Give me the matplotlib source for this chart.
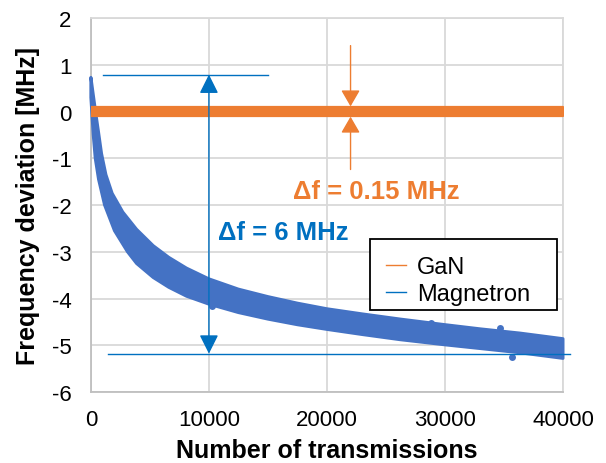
import numpy as np
import matplotlib
matplotlib.use('Agg')
import matplotlib.pyplot as plt
from matplotlib.lines import Line2D
from matplotlib.patches import Rectangle

plt.rcParams['font.family'] = ['Liberation Sans', 'DejaVu Sans']
plt.rcParams['axes.unicode_minus'] = False

mag_x_upper = [0, 150, 420, 650, 900, 1270, 1800, 2700, 3870, 5280, 6600, 8100, 10000,
               12500, 15000, 17500, 20000, 23000, 26200, 30000, 33000, 36350, 40000]
mag_upper = [0.73, 0.45, -0.05, -0.45, -0.9, -1.35, -1.75, -2.15, -2.52, -2.87, -3.12,
             -3.35, -3.58, -3.8, -3.96, -4.1, -4.22, -4.33, -4.44, -4.56, -4.65, -4.74, -4.86]
mag_x_lower = [0, 200, 370, 650, 1160, 2000, 3100, 3870, 5280, 6600, 8100, 10000,
               12500, 15000, 17500, 20000, 23000, 26200, 30000, 33000, 36350, 40000]
mag_lower = [0.3, -0.5, -1.0, -1.45, -2.0, -2.55, -3.0, -3.25, -3.55, -3.76, -3.95, -4.12,
             -4.3, -4.44, -4.56, -4.66, -4.77, -4.88, -4.99, -5.07, -5.16, -5.28]
# a few stray magnetron points
mag_out_x = [10300, 28800, 34700, 35700]
mag_out_y = [-4.16, -4.53, -4.63, -5.25]

# GaN band stays around 0
gan_x = [0, 40000]
gan_upper = [0.1, 0.1]
gan_lower = [-0.1, -0.1]

# annotation values
mag_top, mag_bottom = 0.79, -5.18
gan_top, gan_bottom = 0.11, -0.11

blue = '#4472C4'
orange = '#ED7D31'
dark_blue = '#0070C0'
grid_c = '#D9D9D9'

fig = plt.figure(figsize=(6.06, 4.64), dpi=100)
ax = fig.add_axes([0.150, 0.153, 0.779, 0.806])

# magnetron band
poly_x = np.r_[mag_x_upper, mag_x_lower[::-1]]
poly_y = np.r_[mag_upper, mag_lower[::-1]]
ax.fill(poly_x, poly_y, color=blue, lw=2.2, joinstyle='round', zorder=3, clip_on=False)
ax.plot(mag_out_x, mag_out_y, 'o', ms=5, color=blue, mew=0, zorder=3)

# GaN band
ax.fill_between(gan_x, gan_lower, gan_upper, color=orange, lw=1.6, zorder=4)

# blue delta f annotation
ax.plot([1000, 15000], [mag_top, mag_top], color=dark_blue, lw=1, zorder=5)
ax.plot([1440, 40600], [mag_bottom, mag_bottom], color=dark_blue, lw=1, zorder=5, clip_on=False)
ax.annotate('', xy=(10000, mag_top), xytext=(10000, mag_bottom),
            arrowprops=dict(arrowstyle='<|-|>,head_length=0.58,head_width=0.29',
                            mutation_scale=20, color=dark_blue, lw=1,
                            shrinkA=0, shrinkB=0), zorder=5)
ax.text(10800, -2.57, '\u0394f = 6 MHz', color=dark_blue, fontsize=18.5,
        fontweight='bold', va='center', ha='left', zorder=6)

# orange delta f annotation
ax.annotate('', xy=(22000, gan_top), xytext=(22000, 1.41),
            arrowprops=dict(arrowstyle='-|>,head_length=0.5,head_width=0.29',
                            mutation_scale=20, color=orange, lw=1,
                            shrinkA=0, shrinkB=0), zorder=5)
ax.annotate('', xy=(22000, gan_bottom), xytext=(22000, -1.24),
            arrowprops=dict(arrowstyle='-|>,head_length=0.5,head_width=0.29',
                            mutation_scale=20, color=orange, lw=1,
                            shrinkA=0, shrinkB=0), zorder=5)
ax.text(17100, -1.71, '\u0394f = 0.15 MHz', color=orange, fontsize=18.5,
        fontweight='bold', va='center', ha='left', zorder=6)

ax.set_xlim(0, 40000)
ax.set_ylim(-6, 2)
ax.set_xticks(np.arange(0, 40001, 10000))
ax.set_yticks(np.arange(-6, 3, 1))
ax.grid(True, color=grid_c, lw=1.3, zorder=0)
ax.set_axisbelow(True)
for s in ['top', 'right']:
    ax.spines[s].set_color(grid_c)
    ax.spines[s].set_linewidth(1.3)
for s in ['left', 'bottom']:
    ax.spines[s].set_color('#BFBFBF')
    ax.spines[s].set_linewidth(1.3)
ax.tick_params(length=0, labelsize=16)
ax.tick_params(axis='y', pad=14)
ax.tick_params(axis='x', pad=12)

ax.set_xlabel('Number of transmissions', fontsize=18, fontweight='bold', labelpad=6)
ax.set_ylabel('Frequency deviation [MHz]', fontsize=18, fontweight='bold', labelpad=8)

# legend box (Excel style, wider than its text)
box = Rectangle((0.591, 0.219), 0.396, 0.190, transform=ax.transAxes,
                facecolor='white', edgecolor='black', lw=1.3, zorder=7)
ax.add_patch(box)
handles = [Line2D([], [], color=orange, lw=1), Line2D([], [], color=dark_blue, lw=1)]
leg = ax.legend(handles, ['GaN', 'Magnetron'], loc='center left',
                bbox_to_anchor=(0.625, 0.298), fontsize=17, frameon=False,
                handlelength=0.85, handletextpad=0.45, labelspacing=0.2,
                borderpad=0, borderaxespad=0)
leg.set_zorder(8)

fig.savefig('out.png', dpi=100)
